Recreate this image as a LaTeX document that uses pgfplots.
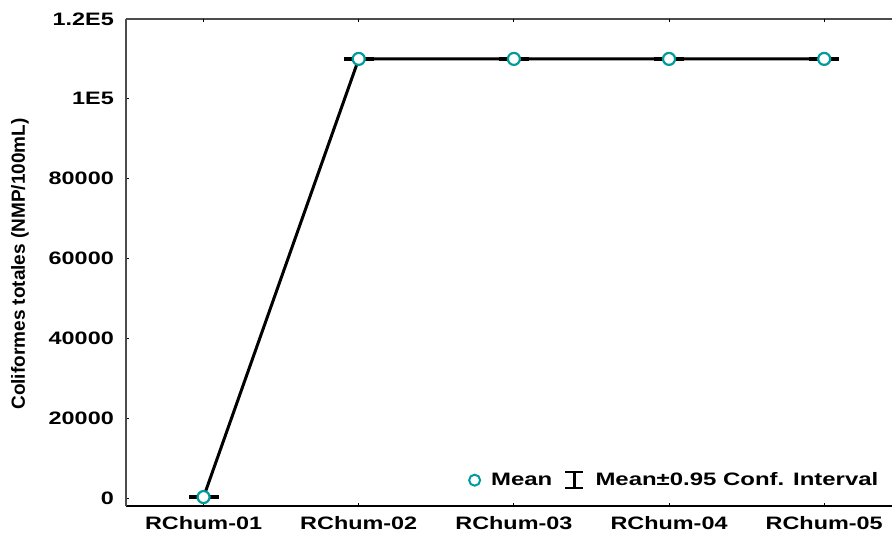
\documentclass[border=0pt]{standalone}
\usepackage{pgfplots}
\pgfplotsset{compat=1.18}
\usepackage{fontspec}
\setmainfont{Liberation Sans}
\newfontfamily\wfont[FakeStretch=1.3]{Liberation Sans}
\newfontfamily\lfont[FakeStretch=1.33]{Liberation Sans}
\definecolor{teal2}{RGB}{0,155,155}
\begin{document}
\begin{tikzpicture}[x=1pt,y=1pt]
\useasboundingbox (0,0) rectangle (892,534);
\begin{axis}[
  at={(126pt,28pt)}, anchor=south west,
  scale only axis, width=766pt, height=487pt,
  xmin=-0.5, xmax=4.437, ymin=-2000, ymax=120000,
  axis x line*=bottom, axis y line*=left,
  x axis line style={black, line width=1.2pt},
  y axis line style={gray!60!black, line width=1.2pt},
  tick align=inside, major tick length=3pt,
  tick style={black, line width=0.8pt},
  xtick={0,1,2,3,4},
  xticklabels={RChum-01,RChum-02,RChum-03,RChum-04,RChum-05},
  ytick={0,20000,40000,60000,80000,100000,120000},
  yticklabels={0,20000,40000,60000,80000,1E5,1.2E5},
  scaled y ticks=false,
  ticklabel style={font=\wfont\fontsize{18}{20}\selectfont\bfseries},
  yticklabel style={anchor=east, inner sep=0pt, xshift=-12pt},
  xticklabel style={anchor=north, inner sep=0pt, yshift=-10pt},
  ylabel={Coliformes totales (NMP/100mL)},
  ylabel style={at={(axis description cs:-0.1384,0.497)}, anchor=center, rotate=0,
    font=\fontsize{19}{21}\selectfont\bfseries},
  legend style={draw=none, fill=none, inner sep=0pt,
    font=\lfont\fontsize{18}{20}\selectfont\bfseries,
    at={(rel axis cs:0.985,0.053)}, anchor=east,
    /tikz/every odd column/.append style={column sep=9pt},
    /tikz/every even column/.append style={column sep=10pt}},
  legend columns=2,
  clip=false,
]
\addlegendimage{only marks, mark=*, mark size=5.5pt, mark options={draw=teal2, fill=white, line width=2pt}}
\addlegendentry{Mean}
\addlegendimage{legend image code/.code={\draw[black, line width=2.2pt] (9pt,-8pt)--(9pt,8pt) (0pt,-8pt)--(18pt,-8pt) (0pt,8pt)--(18pt,8pt);}}
\addlegendentry{Mean±0.95 Conf. Interval}
\addplot[forget plot, only marks, mark=-, mark size=15pt, mark options={black, line width=3.2pt}]
  coordinates {(0,240)(1,110000)(2,110000)(3,110000)(4,110000)};
\addplot[forget plot, black, line width=3pt, mark=*, mark size=6pt,
  mark options={draw=teal2, fill=white, line width=2.2pt}]
  coordinates {(0,240)(1,110000)(2,110000)(3,110000)(4,110000)};
\draw[gray!60!black, line width=1.2pt] (rel axis cs:0,1) -- (rel axis cs:1,1);
\pgfplotsinvokeforeach{0,1,2,3,4}{\draw[black, line width=0.8pt] (axis cs:#1,120000) -- ++(0pt,-3pt);}
\end{axis}
\end{tikzpicture}
\end{document}
